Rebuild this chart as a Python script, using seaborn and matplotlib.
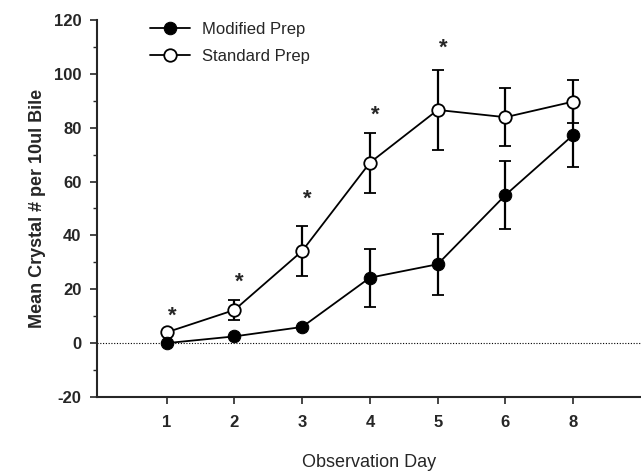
import numpy as np
import pandas as pd
import matplotlib
matplotlib.use("Agg")
import matplotlib.pyplot as plt
import seaborn as sns

# values
days = ["1", "2", "3", "4", "5", "6", "8"]
modified_mean = [0.0, 2.5, 6.0, 24.3, 29.3, 55.0, 77.3]
modified_err = [0.0, 0.0, 0.0, 10.7, 11.4, 12.7, 11.8]
standard_mean = [4.0, 12.3, 34.2, 67.0, 86.6, 83.9, 89.7]
standard_err = [0.0, 3.6, 9.3, 11.2, 15.0, 10.8, 8.0]
star_y = [10.0, 22.8, 53.5, 84.8, 109.7]  # significance marks above days 1-5

pos = np.arange(1, len(days) + 1)
df = pd.DataFrame({
    "pos": np.concatenate([pos, pos]),
    "mean": modified_mean + standard_mean,
    "err": modified_err + standard_err,
    "prep": ["Modified Prep"] * len(days) + ["Standard Prep"] * len(days),
})

sns.set_style("ticks")
plt.rcParams["font.family"] = ["Liberation Sans", "DejaVu Sans"]
plt.rcParams["axes.unicode_minus"] = False

fig = plt.figure(figsize=(6.41, 4.76), dpi=100)
ax = fig.add_axes([0.151, 0.166, 0.849, 0.792])

# error bars first so the open circles sit on top of them
for name, g in df.groupby("prep"):
    ax.errorbar(g["pos"], g["mean"], yerr=g["err"], fmt="none", ecolor="black",
                elinewidth=1.6, capsize=4, capthick=1.3, zorder=2)

sns.lineplot(data=df[df.prep == "Standard Prep"], x="pos", y="mean", ax=ax,
             color="black", linewidth=1.3, marker="o", markersize=9,
             markerfacecolor="white", markeredgecolor="black", markeredgewidth=1.3,
             label="Standard Prep", zorder=3)
sns.lineplot(data=df[df.prep == "Modified Prep"], x="pos", y="mean", ax=ax,
             color="black", linewidth=1.3, marker="o", markersize=9,
             markerfacecolor="black", markeredgecolor="black",
             label="Modified Prep", zorder=4)

ax.axhline(0, color="black", linestyle=(0, (1, 1.5)), linewidth=0.8, zorder=1)

for i, y in enumerate(star_y):
    ax.text(pos[i] + 0.08, y, "*", ha="center", va="center", fontsize=16,
            fontweight="bold")

ax.set_xlim(-0.03, 8.0)
ax.set_ylim(-20, 120)
ax.set_xticks(pos)
ax.set_xticklabels(days)
ax.set_yticks(np.arange(-20, 121, 20))
ax.set_yticks(np.arange(-10, 120, 20), minor=True)
ax.tick_params(axis="both", labelsize=12, width=1.2, length=5, direction="out")
ax.tick_params(axis="y", which="minor", length=3, width=1)
for lab in ax.get_xticklabels() + ax.get_yticklabels():
    lab.set_fontweight("bold")
ax.tick_params(axis="x", pad=8)
ax.tick_params(axis="y", pad=6)

ax.spines["top"].set_visible(False)
ax.spines["right"].set_visible(False)
ax.spines["left"].set_linewidth(1.5)
ax.spines["bottom"].set_linewidth(1.5)

ax.set_xlabel("Observation Day", fontsize=13, labelpad=17)
ax.set_ylabel("Mean Crystal # per 10ul Bile", fontsize=13, fontweight="bold",
              labelpad=6)

handles, labels = ax.get_legend_handles_labels()
order = [labels.index("Modified Prep"), labels.index("Standard Prep")]
ax.legend([handles[i] for i in order], [labels[i] for i in order],
          loc="upper left", bbox_to_anchor=(0.07, 1.035), frameon=False,
          fontsize=12, handlelength=2.4, handletextpad=0.7, labelspacing=0.75)

fig.savefig("out.png", dpi=100)
